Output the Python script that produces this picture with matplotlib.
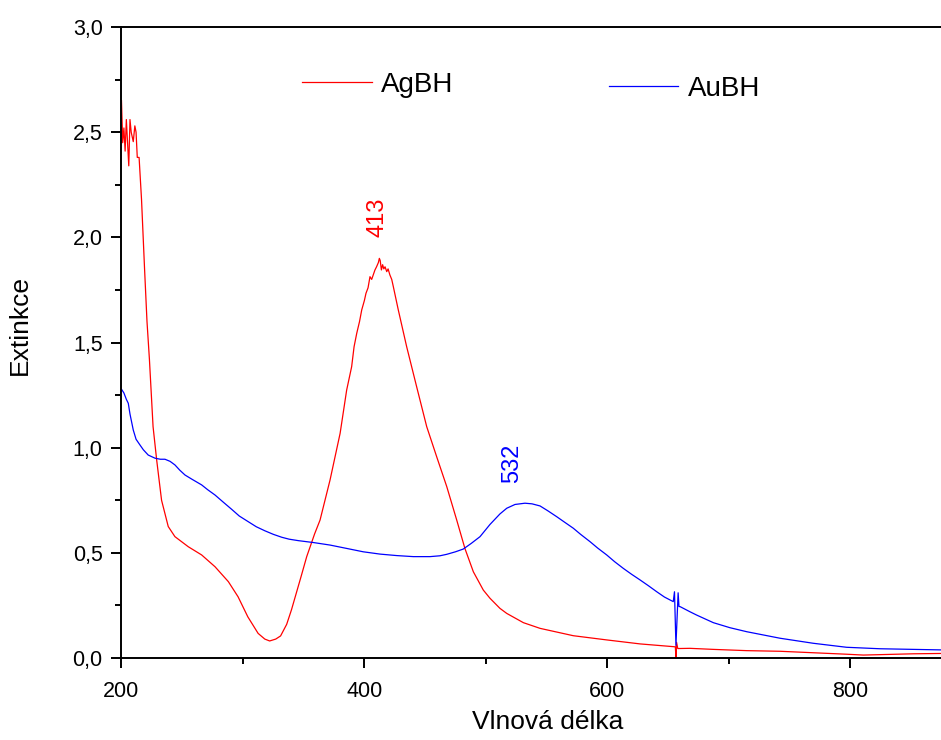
import matplotlib
matplotlib.use("Agg")
import matplotlib.pyplot as plt
from matplotlib.ticker import MultipleLocator, FuncFormatter
from matplotlib.lines import Line2D

plt.rcParams["font.family"] = ["Liberation Sans", "DejaVu Sans"]

# AgBH spectrum (red)
ag_x = [200, 201, 202, 203, 204, 205, 206, 207, 208, 209.7, 211, 212, 213, 214.5,
        216.5, 219, 221, 223, 226, 229, 233, 238.5, 244, 255, 266, 277, 288, 296,
        304, 312.5, 318, 322, 327, 331, 336, 340, 344, 348, 352.5, 359, 363.5,
        371.7, 380, 385.4, 389.5, 391.5, 393.7, 396, 397.8, 400, 401.3, 403, 404.6,
        406, 408.7, 410, 411.5, 412.3, 413, 414, 415, 416, 417, 418.4, 419.5, 421,
        422.5, 423.8, 427.9, 434.8, 443, 451.3, 459.5, 467.8, 476, 482.8, 489.7,
        497.9, 503.4, 511.6, 517.2, 530.9, 544.6, 572, 599.5, 627, 654.3, 656,
        656.5, 657, 658, 668, 687.3, 714.8, 742.2, 769.6, 797, 810.8, 824.5, 852, 880]
ag_y = [2.65, 2.45, 2.52, 2.41, 2.56, 2.45, 2.34, 2.56, 2.50, 2.455, 2.53, 2.50, 2.38, 2.38,
        2.18, 1.85, 1.60, 1.42, 1.10, 0.94, 0.75, 0.625, 0.577, 0.529, 0.490, 0.434, 0.363, 0.291,
        0.196, 0.117, 0.090, 0.081, 0.090, 0.105, 0.160, 0.230, 0.310, 0.390, 0.482, 0.590, 0.656,
        0.846, 1.068, 1.274, 1.385, 1.480, 1.544, 1.600, 1.655, 1.700, 1.734, 1.760, 1.813,
        1.800, 1.845, 1.860, 1.880, 1.900, 1.890, 1.845, 1.870, 1.850, 1.860, 1.837, 1.850, 1.821,
        1.800, 1.766, 1.655, 1.480, 1.290, 1.100, 0.957, 0.815, 0.656, 0.520, 0.410,
        0.323, 0.284, 0.236, 0.212, 0.168, 0.141, 0.106, 0.086, 0.067, 0.054, 0.053,
        0.005, 0.075, 0.045, 0.046, 0.041, 0.035, 0.032, 0.025, 0.018, 0.014, 0.016, 0.020, 0.022]

# AuBH spectrum (blue)
au_x = [200, 202, 204, 205.6, 207, 209.7, 212, 215.2, 218, 222, 227.6, 232, 235.8, 240,
        244, 248, 252.3, 258, 266, 271, 277, 284, 290.7, 297, 304.4, 311, 318, 325,
        332, 338, 345.6, 358, 371.7, 385.4, 399, 412.9, 426.6, 440.3, 454, 462.2,
        467.8, 475, 481.4, 488, 495.2, 503.4, 511.6, 517.2, 524, 532.2, 538, 544.6,
        551, 558.3, 565, 572, 578, 585.8, 592, 599.5, 606, 613.2, 620, 627, 634,
        640.7, 647, 654.3, 655.3, 656.5, 658.3, 659, 660, 668, 673.6, 687.3, 701,
        714.8, 742.2, 769.6, 797, 824.5, 852, 880]
au_y = [1.278, 1.26, 1.23, 1.211, 1.16, 1.084, 1.04, 1.013, 0.99, 0.965, 0.950, 0.945, 0.945, 0.935,
        0.918, 0.893, 0.870, 0.850, 0.823, 0.800, 0.775, 0.740, 0.707, 0.675, 0.648, 0.624, 0.605, 0.588,
        0.574, 0.565, 0.558, 0.549, 0.537, 0.521, 0.505, 0.494, 0.487, 0.482, 0.482, 0.486,
        0.493, 0.505, 0.518, 0.545, 0.577, 0.635, 0.685, 0.712, 0.730, 0.736, 0.733, 0.723,
        0.700, 0.672, 0.645, 0.617, 0.588, 0.553, 0.523, 0.490, 0.458, 0.426, 0.398, 0.371, 0.343,
        0.315, 0.290, 0.268, 0.315, 0.060, 0.310, 0.245, 0.244, 0.220, 0.204, 0.168, 0.144,
        0.125, 0.094, 0.070, 0.051, 0.044, 0.041, 0.038]

peak_labels = ["413", "532"]
peak_x = [411, 522]
peak_y = [2.0, 0.83]

fig = plt.figure(figsize=(9.41, 7.40), dpi=100)
ax = fig.add_axes([0.1291, 0.1108, 0.8777, 0.8527])

ax.plot(ag_x, ag_y, color="#ff0000", lw=0.9)
ax.plot(au_x, au_y, color="#0000ff", lw=0.9)

ax.set_xlim(200, 880)
ax.set_ylim(0, 3.0)
ax.xaxis.set_major_locator(MultipleLocator(200))
ax.xaxis.set_minor_locator(MultipleLocator(100))
ax.yaxis.set_major_locator(MultipleLocator(0.5))
ax.yaxis.set_minor_locator(MultipleLocator(0.25))
ax.yaxis.set_major_formatter(FuncFormatter(lambda v, p: f"{v:.1f}".replace(".", ",")))
ax.tick_params(which="major", direction="out", length=7.5, width=1.4, labelsize=15.5)
ax.tick_params(axis="x", which="major", pad=9)
ax.tick_params(axis="y", which="major", pad=6)
ax.tick_params(which="minor", direction="out", length=4, width=1.4)
ax.tick_params(top=False, right=False, which="both")
for spine in ax.spines.values():
    spine.set_linewidth(1.4)

ax.set_xlabel("Vlnová délka", fontsize=19)
ax.set_ylabel("Extinkce", fontsize=19)
ax.xaxis.set_label_coords(0.516, -0.083)
ax.yaxis.set_label_coords(-0.108, 0.528)

for lab, px, py, c in zip(peak_labels, peak_x, peak_y, ["#ff0000", "#0000ff"]):
    ax.text(px, py, lab, rotation=90, ha="center", va="bottom", color=c, fontsize=17)

fig.legend(handles=[Line2D([], [], color="#ff0000", lw=0.9)], labels=["AgBH"],
           loc="center left", bbox_to_anchor=(0.321, 0.885), frameon=False,
           fontsize=20, handlelength=2.5, handletextpad=0.33,
           borderpad=0, borderaxespad=0)
fig.legend(handles=[Line2D([], [], color="#0000ff", lw=0.9)], labels=["AuBH"],
           loc="center left", bbox_to_anchor=(0.647, 0.880), frameon=False,
           fontsize=20, handlelength=2.5, handletextpad=0.33,
           borderpad=0, borderaxespad=0)

fig.savefig("out.png", dpi=100, facecolor="white")
